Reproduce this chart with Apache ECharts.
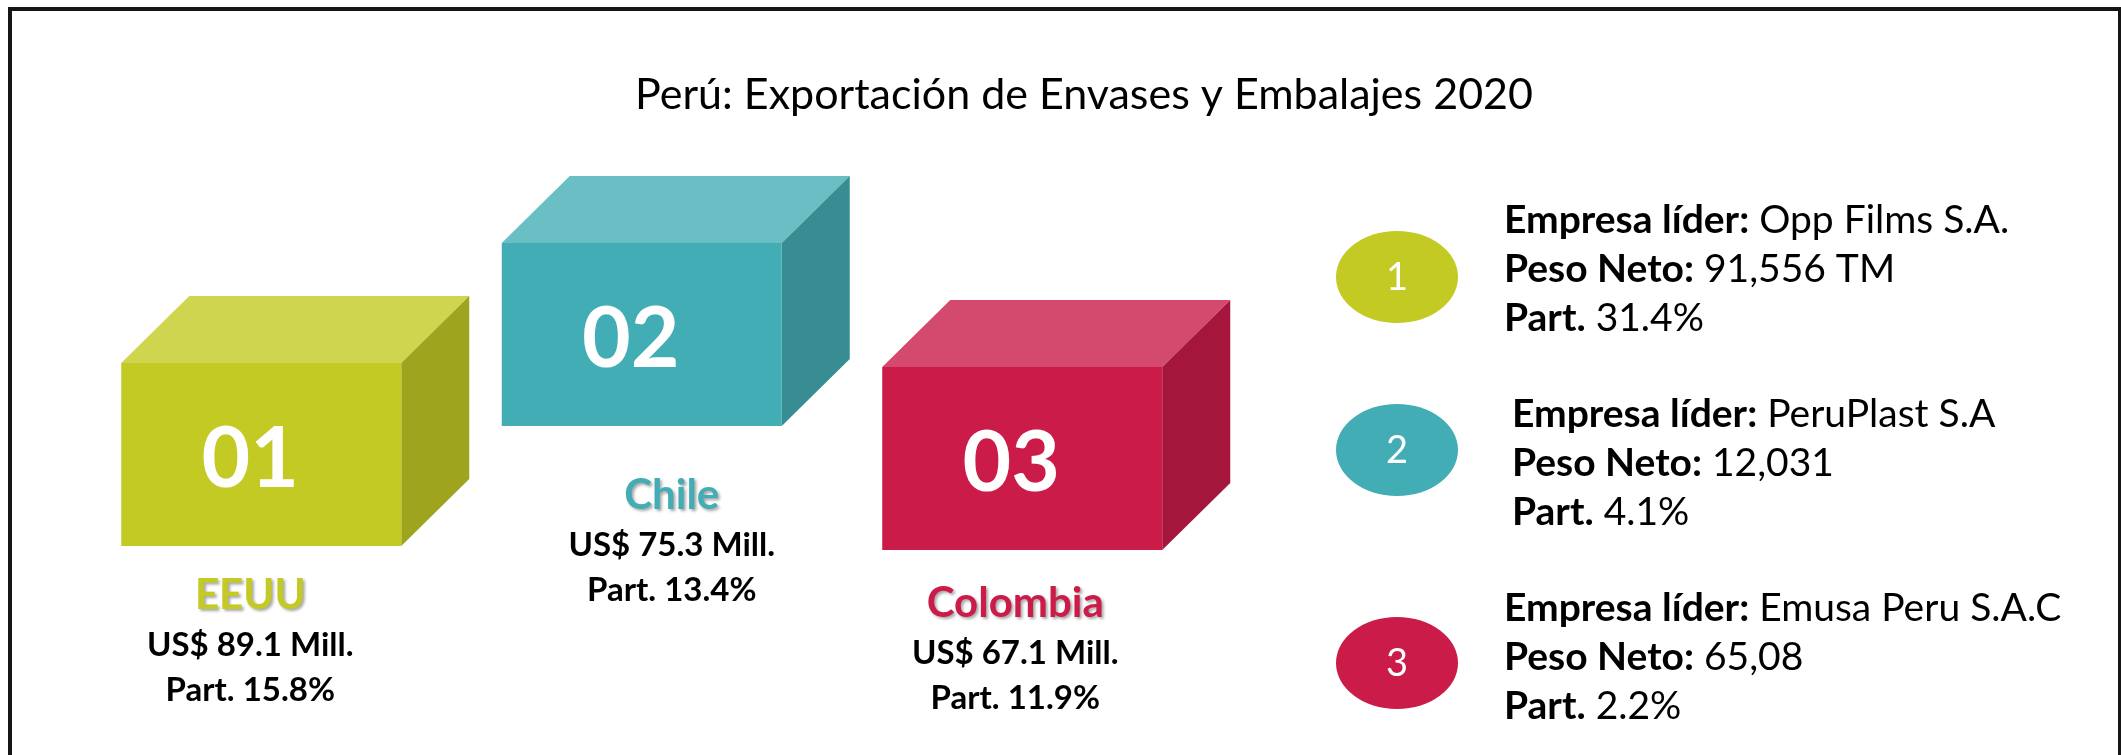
<!DOCTYPE html>
<html>
<head>
<meta charset="utf-8">
<script src="https://cdn.jsdelivr.net/npm/echarts@6/dist/echarts.min.js"></script>
<style>
  html, body { margin: 0; padding: 0; background: #fff; }
  #main { width: 2121px; height: 755px; }
</style>
</head>
<body>
<div id="main"></div>
<script>
// datos
var countries = ['EEUU', 'Chile', 'Colombia'];
var rankLabels = ['01', '02', '03'];
var exportValues = [89.1, 75.3, 67.1]; // US$ millones
var exportShares = [15.8, 13.4, 11.9]; // %
var companyRanks = ['1', '2', '3'];
var companies = ['Opp Films S.A.', 'PeruPlast S.A', 'Emusa Peru S.A.C'];
var netWeights = ['91,556 TM', '12,031', '65,08'];
var companyShares = [31.4, 4.1, 2.2]; // %

var titleText = 'Perú: Exportación de Envases y Embalajes 2020';

// colores de cada caja
var boxColors = [
  { front: '#c3ca23', top: '#cfd54f', side: '#9ea41e' },
  { front: '#43adb6', top: '#69bfc4', side: '#378d91' },
  { front: '#ca1b49', top: '#d4496e', side: '#a5163c' }
];

// posiciones (layout del infografico)
var BOX_W = 280, BOX_H = 183, DEPTH_X = 68, DEPTH_Y = 67;
var boxTop = [363, 243, 367];
var labelTop = [595, 495, 603];
var labelDx = [-11, 30, -7];
var circleDy = [8, -13, 6];
var textDx = [0, 8, 0];

var FONT = 'Lato, "Noto Sans", sans-serif';
var SIDE_SIZE = 39;

function renderBox(params, api) {
  var i = params.dataIndex;
  var cx = api.coord([api.value(0), 0])[0];
  var x0 = cx - BOX_W / 2, y0 = boxTop[i];
  var x1 = x0 + BOX_W, y1 = y0 + BOX_H;
  var c = boxColors[i];
  var lx = cx + labelDx[i], ly = labelTop[i];
  return {
    type: 'group',
    children: [
      { type: 'polygon', shape: { points: [[x0, y0], [x0 + DEPTH_X, y0 - DEPTH_Y], [x1 + DEPTH_X, y0 - DEPTH_Y], [x1, y0]] }, style: { fill: c.top } },
      { type: 'polygon', shape: { points: [[x1, y0], [x1 + DEPTH_X, y0 - DEPTH_Y], [x1 + DEPTH_X, y1 - DEPTH_Y], [x1, y1]] }, style: { fill: c.side } },
      { type: 'rect', shape: { x: x0, y: y0, width: BOX_W, height: BOX_H }, style: { fill: c.front } },
      { type: 'text', style: { text: rankLabels[i], x: cx - 11, y: (y0 + y1) / 2 + 5, fill: '#fff',
          fontFamily: FONT, fontSize: 84, fontWeight: 'bold', align: 'center', verticalAlign: 'middle' } },
      { type: 'text', style: { text: countries[i], x: lx, y: ly, fill: c.front,
          fontFamily: FONT, fontSize: 42, fontWeight: 'bold', align: 'center', verticalAlign: 'middle',
          textShadowColor: 'rgba(0,0,0,0.35)', textShadowBlur: 3, textShadowOffsetX: 2, textShadowOffsetY: 2 } },
      { type: 'text', style: { text: 'US$ ' + api.value(1).toFixed(1) + ' Mill.', x: lx, y: ly + 50, fill: '#000',
          fontFamily: FONT, fontSize: 33, fontWeight: 'bold', align: 'center', verticalAlign: 'middle' } },
      { type: 'text', style: { text: 'Part. ' + exportShares[i].toFixed(1) + '%', x: lx, y: ly + 95, fill: '#000',
          fontFamily: FONT, fontSize: 33, fontWeight: 'bold', align: 'center', verticalAlign: 'middle' } }
    ]
  };
}

var richStyle = {
  b: { fontFamily: FONT, fontSize: SIDE_SIZE, fontWeight: 'bold', fill: '#000' },
  r: { fontFamily: FONT, fontSize: SIDE_SIZE, fontWeight: 'normal', fill: '#000' }
};

function richLine(label, value, x, y) {
  return {
    type: 'text',
    style: {
      text: '{b|' + label + '} {r|' + value + '}', rich: richStyle,
      x: x, y: y, fill: '#000', fontFamily: FONT, fontSize: SIDE_SIZE,
      align: 'left', verticalAlign: 'middle'
    }
  };
}

function renderCompany(params, api) {
  var i = params.dataIndex;
  var p = api.coord([0, api.value(0)]);
  var cx = p[0] + 61, cy = p[1];
  var tx = 1504 + textDx[i];
  return {
    type: 'group',
    children: [
      { type: 'ellipse', shape: { cx: cx, cy: cy + circleDy[i], rx: 61, ry: 46 }, style: { fill: boxColors[i].front } },
      { type: 'text', style: { text: companyRanks[i], x: cx, y: cy + circleDy[i] + 1, fill: '#fff',
          fontFamily: FONT, fontSize: 38, align: 'center', verticalAlign: 'middle' } },
      richLine('Empresa líder:', companies[i], tx, cy - 49),
      richLine('Peso Neto:', netWeights[i], tx, cy),
      richLine('Part.', api.value(1).toFixed(1) + '%', tx, cy + 49)
    ]
  };
}

var chart = echarts.init(document.getElementById('main'), null, { renderer: 'canvas' });

var option = {
  backgroundColor: '#fff',
  animation: false,
  grid: [
    { left: 71, top: 100, width: 1141.5, height: 500 },
    { left: 1336, top: 172, width: 700, height: 582 }
  ],
  xAxis: [
    { gridIndex: 0, type: 'category', data: countries, show: false },
    { gridIndex: 1, type: 'value', min: 0, max: 1, show: false }
  ],
  yAxis: [
    { gridIndex: 0, type: 'value', min: 0, max: 100, show: false },
    { gridIndex: 1, type: 'category', data: companies, inverse: true, show: false }
  ],
  graphic: [
    { type: 'rect', shape: { x: 10, y: 9, width: 2110, height: 800 },
      style: { fill: 'none', stroke: '#151515', lineWidth: 4 } },
    { type: 'text', x: 1084, y: 95,
      style: { text: titleText, fill: '#000', fontFamily: FONT, fontSize: 43, align: 'center', verticalAlign: 'middle' } }
  ],
  series: [
    {
      type: 'custom', xAxisIndex: 0, yAxisIndex: 0, silent: true, clip: false,
      renderItem: renderBox,
      data: countries.map(function (c, i) { return [i, exportValues[i]]; })
    },
    {
      type: 'custom', xAxisIndex: 1, yAxisIndex: 1, silent: true, clip: false,
      renderItem: renderCompany,
      data: companies.map(function (c, i) { return [i, companyShares[i]]; })
    }
  ]
};

chart.setOption(option);
</script>
</body>
</html>
